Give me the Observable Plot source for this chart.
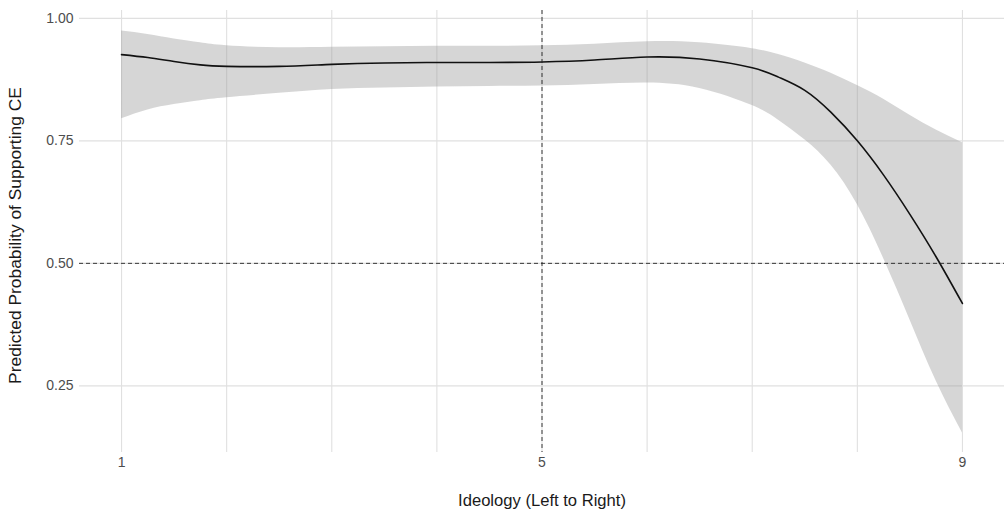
<!DOCTYPE html>
<html>
<head>
<meta charset="utf-8">
<script src="https://cdn.jsdelivr.net/npm/d3@7"></script>
<script src="https://cdn.jsdelivr.net/npm/@observablehq/plot@0.6"></script>
<style>
  html, body { margin: 0; padding: 0; background: #fff; }
  #chart svg { display: block; }
</style>
</head>
<body>
<div id="chart"></div>
<script>
const ideology = [1, 1.25, 1.5, 1.75, 2, 2.5, 3, 3.5, 4, 4.5, 5, 5.5, 6, 6.5, 7, 7.25, 7.5, 7.75, 8, 8.25, 8.5, 8.75, 9];
const fitted   = [0.926, 0.920, 0.912, 0.905, 0.902, 0.902, 0.906, 0.909, 0.910, 0.910, 0.911, 0.915, 0.921, 0.917, 0.899, 0.880, 0.853, 0.808, 0.750, 0.680, 0.600, 0.513, 0.418];
const upper    = [0.974, 0.967, 0.958, 0.950, 0.944, 0.940, 0.941, 0.942, 0.943, 0.943, 0.944, 0.947, 0.952, 0.950, 0.938, 0.926, 0.909, 0.888, 0.863, 0.835, 0.802, 0.772, 0.746];
const lower    = [0.795, 0.813, 0.824, 0.832, 0.838, 0.847, 0.855, 0.858, 0.860, 0.861, 0.862, 0.865, 0.868, 0.857, 0.822, 0.792, 0.752, 0.700, 0.620, 0.510, 0.385, 0.260, 0.154];
const xTicks = [1, 5, 9];
const xGrid = [1, 2, 3, 4, 5, 6, 7, 8, 9];
const yTicks = [0.25, 0.50, 0.75, 1.00];
const refX = [5];
const refY = [0.5];
const xTitle = "Ideology (Left to Right)";
const yTitle = "Predicted Probability of Supporting CE";

const data = ideology.map((x, i) => ({x, fit: fitted[i], lo: lower[i], hi: upper[i]}));

const chart = Plot.plot({
  width: 1006,
  height: 511,
  marginLeft: 79,
  marginRight: 2,
  marginTop: 10,
  marginBottom: 59,
  style: {fontFamily: "'Liberation Sans', Arial, sans-serif", background: "#fff"},
  x: {domain: [0.6, 9.4]},
  y: {domain: [0.114, 1.016]},
  marks: [
    Plot.ruleX(xGrid, {stroke: "#e0e0e0", strokeWidth: 1.1}),
    Plot.ruleY(yTicks, {stroke: "#e0e0e0", strokeWidth: 1.1}),
    Plot.areaY(data, {x: "x", y1: "lo", y2: "hi", fill: "#999999", fillOpacity: 0.4, curve: "natural"}),
    Plot.line(data, {x: "x", y: "fit", stroke: "#111", strokeWidth: 1.6, curve: "natural"}),
    Plot.ruleY(refY, {stroke: "#222", strokeWidth: 0.9, strokeDasharray: "4,3"}),
    Plot.ruleX(refX, {stroke: "#222", strokeWidth: 0.9, strokeDasharray: "4,3"}),
    Plot.axisX({ticks: xTicks, tickSize: 0, tickPadding: 5, fontSize: 14, color: "#4d4d4d", label: null, tickFormat: d => String(d)}),
    Plot.axisY({ticks: yTicks, tickSize: 0, tickPadding: 6, fontSize: 14, color: "#4d4d4d", label: null, tickFormat: d3.format(".2f")}),
    Plot.text([xTitle], {frameAnchor: "bottom", dy: 48, text: d => d, fontSize: 16.6, fill: "#1a1a1a", textAnchor: "middle", lineAnchor: "middle"}),
    Plot.text([yTitle], {frameAnchor: "left", dx: -64, dy: 4, rotate: -90, text: d => d, fontSize: 17.4, fill: "#1a1a1a", textAnchor: "middle", lineAnchor: "middle"})
  ]
});
document.getElementById("chart").append(chart);
</script>
</body>
</html>
